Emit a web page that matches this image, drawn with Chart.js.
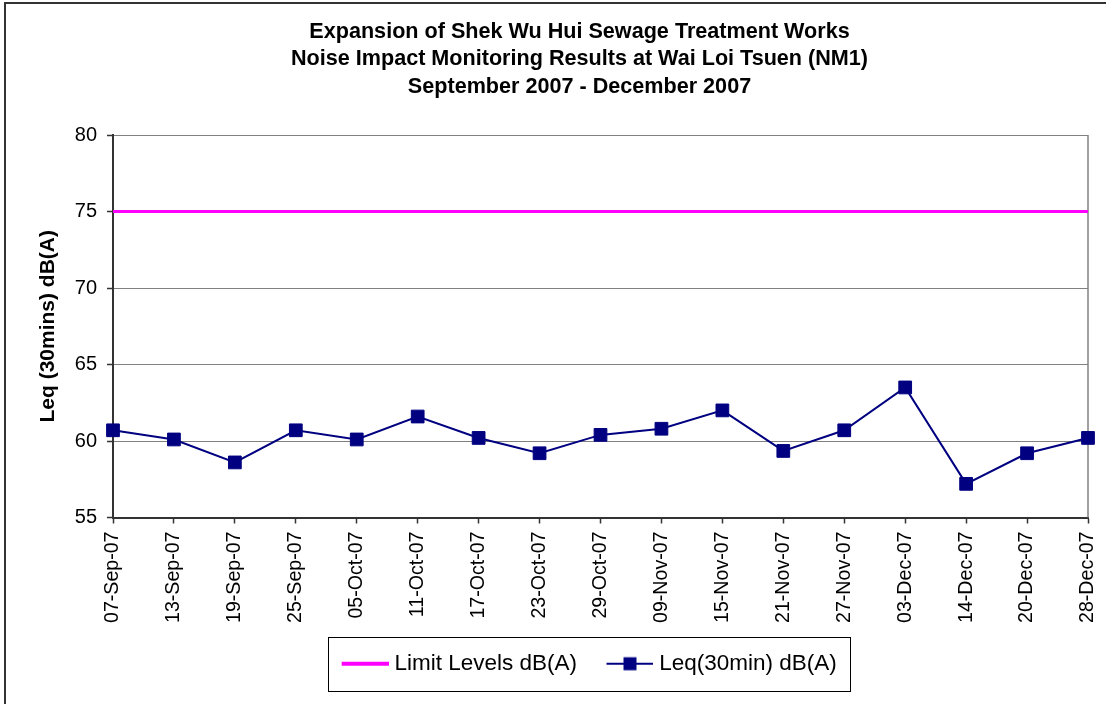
<!DOCTYPE html>
<html>
<head>
<meta charset="utf-8">
<script src="https://cdn.jsdelivr.net/npm/chart.js@4.4.1/dist/chart.umd.min.js"></script>
<style>
  html, body { margin: 0; padding: 0; background: #fff; }
  #wrap { width: 1110px; height: 704px; position: relative; }
</style>
</head>
<body>
<div id="wrap"><canvas id="c" width="1110" height="704"></canvas></div>
<script>
// ---- data ----
const categories = ['07-Sep-07','13-Sep-07','19-Sep-07','25-Sep-07','05-Oct-07','11-Oct-07','17-Oct-07','23-Oct-07','29-Oct-07','09-Nov-07','15-Nov-07','21-Nov-07','27-Nov-07','03-Dec-07','14-Dec-07','20-Dec-07','28-Dec-07'];
const limitLevels = [75,75,75,75,75,75,75,75,75,75,75,75,75,75,75,75,75];
const leqValues = [60.7,60.1,58.6,60.7,60.1,61.6,60.2,59.2,60.4,60.8,62.0,59.35,60.7,63.5,57.2,59.2,60.2];
const yTicks = [55,60,65,70,75,80];
const titleLines = ['Expansion of Shek Wu Hui Sewage Treatment Works','Noise Impact Monitoring Results at Wai Loi Tsuen (NM1)','September 2007 - December 2007'];
const seriesNames = ['Limit Levels dB(A)','Leq(30min) dB(A)'];
const yTitle = 'Leq (30mins) dB(A)';

const FONT = "'Liberation Sans', Arial, sans-serif";
const MAGENTA = '#FF00FF';
const NAVY = '#000080';

// legend marker images
function makeMarker(kind) {
  const cv = document.createElement('canvas');
  cv.width = 72; cv.height = 16;
  const g = cv.getContext('2d');
  if (kind === 'limit') {
    g.strokeStyle = MAGENTA; g.lineWidth = 4;
    g.beginPath(); g.moveTo(25, 8); g.lineTo(72, 8); g.stroke();
  } else {
    g.strokeStyle = NAVY; g.lineWidth = 2;
    g.beginPath(); g.moveTo(25, 8); g.lineTo(72, 8); g.stroke();
    g.fillStyle = NAVY;
    g.fillRect(42, 1.5, 13, 13);
  }
  return cv;
}
const markers = [makeMarker('limit'), makeMarker('leq')];

const framePlugin = {
  id: 'frame',
  beforeDatasetsDraw(chart) {
    const {ctx, chartArea} = chart;
    ctx.save();
    ctx.strokeStyle = '#808080';
    ctx.lineWidth = 1.5;
    ctx.beginPath();
    ctx.moveTo(chartArea.right, chartArea.top);
    ctx.lineTo(chartArea.right, chartArea.bottom);
    ctx.stroke();
    ctx.restore();
  },
  afterDraw(chart) {
    const {ctx} = chart;
    ctx.save();
    // outer frame
    ctx.strokeStyle = '#333';
    ctx.lineWidth = 2;
    ctx.beginPath();
    ctx.moveTo(5, 704);
    ctx.lineTo(5, 3);
    ctx.lineTo(1106, 3);
    ctx.stroke();
    // legend box
    const lg = chart.legend;
    if (lg && lg.legendHitBoxes && lg.legendHitBoxes.length) {
      const hb = lg.legendHitBoxes;
      const cy = hb[0].top + hb[0].height / 2;
      const left = hb[0].left + 19.5 - 14;
      const last = hb[hb.length - 1];
      const right = last.left + last.width + 13;
      ctx.strokeStyle = '#000';
      ctx.lineWidth = 1;
      ctx.strokeRect(Math.round(left) + 0.5, Math.round(cy - 27) + 0.5, Math.round(right - left), 54);
    }
    ctx.restore();
  }
};

new Chart(document.getElementById('c'), {
  type: 'line',
  data: {
    labels: categories,
    datasets: [
      {
        label: seriesNames[0],
        data: limitLevels,
        borderColor: MAGENTA,
        backgroundColor: MAGENTA,
        borderWidth: 3,
        pointRadius: 0,
        pointHoverRadius: 0,
        tension: 0,
        fill: false
      },
      {
        label: seriesNames[1],
        data: leqValues,
        borderColor: NAVY,
        backgroundColor: NAVY,
        borderWidth: 2,
        pointStyle: 'rect',
        pointRadius: 9,
        pointBorderWidth: 1,
        pointBorderColor: NAVY,
        pointBackgroundColor: NAVY,
        tension: 0,
        fill: false
      }
    ]
  },
  options: {
    responsive: false,
    animation: false,
    devicePixelRatio: 1,
    layout: { padding: { left: 71, right: 22, top: 0, bottom: 19 } },
    plugins: {
      tooltip: { enabled: false },
      title: {
        display: true,
        text: titleLines,
        color: '#000',
        font: { family: FONT, size: 21.6, weight: 'bold', lineHeight: 27.5 / 21.6 },
        padding: { top: 18.25, bottom: 34.25 }
      },
      legend: {
        display: true,
        position: 'bottom',
        align: 'center',
        labels: {
          usePointStyle: true,
          pointStyleWidth: 61,
          padding: 10,
          color: '#000',
          font: { family: FONT, size: 22.5 },
          generateLabels(chart) {
            const items = Chart.defaults.plugins.legend.labels.generateLabels(chart);
            items.forEach((it, i) => { it.pointStyle = markers[i]; });
            return items;
          }
        }
      }
    },
    scales: {
      x: {
        type: 'category',
        offset: false,
        grid: {
          display: true,
          drawOnChartArea: false,
          drawTicks: true,
          tickLength: 6,
          tickColor: '#333',
          tickWidth: 1.5
        },
        border: { display: true, color: '#333', width: 2 },
        ticks: {
          autoSkip: false,
          maxRotation: 90,
          minRotation: 90,
          padding: 8,
          color: '#000',
          font: { family: FONT, size: 19.6 }
        },
        afterFit(s) { s.height = 125; s.paddingLeft = 0; s.paddingRight = 0; }
      },
      y: {
        type: 'linear',
        min: 55,
        max: 80,
        afterBuildTicks(s) { s.ticks = yTicks.map(v => ({ value: v })); },
        grid: {
          display: true,
          color: '#808080',
          lineWidth: 1,
          drawTicks: true,
          tickLength: 6,
          tickColor: '#333',
          tickWidth: 1.5
        },
        border: { display: true, color: '#333', width: 2 },
        ticks: {
          padding: 10,
          color: '#000',
          font: { family: FONT, size: 20 }
        },
        title: {
          display: true,
          text: yTitle,
          color: '#000',
          font: { family: FONT, size: 21, weight: 'bold' },
          padding: { top: -35, bottom: 0 }
        },
        afterFit(s) { s.width = 42; s.paddingTop = 0; s.paddingBottom = 0; }
      }
    }
  },
  plugins: [framePlugin]
});
</script>
</body>
</html>
